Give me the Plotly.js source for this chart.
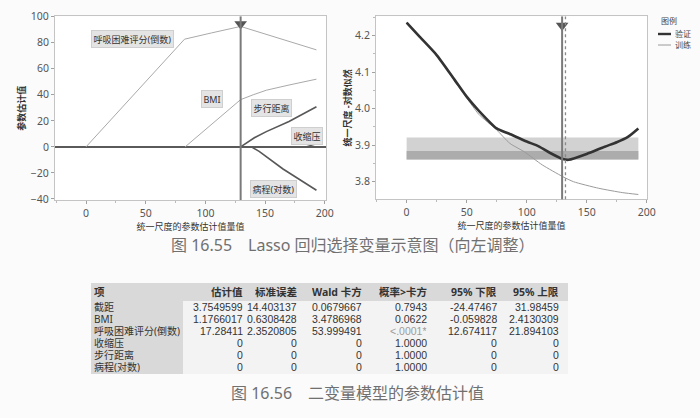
<!DOCTYPE html>
<html><head><meta charset="utf-8">
<script src="https://cdn.plot.ly/plotly-3.0.1.min.js"></script>
<style>html,body{margin:0;padding:0;background:#fbfbfb;} #chart{width:700px;height:418px;}</style>
</head><body><div id="chart"></div>
<script>
// ---- Left chart: Lasso solution paths ----
const pathNames = ['呼吸困难评分(倒数)', 'BMI', '步行距离', '收缩压', '病程(对数)'];
const dyspneaX = [0, 82.5, 105, 129.5, 193];
const dyspneaY = [0, 82.7, 87.5, 92.5, 74.5];
const bmiX = [83, 129.5, 140, 151, 170, 193];
const bmiY = [0, 36.3, 40, 43.5, 47.5, 52];
const walkX = [129.5, 135, 141, 151, 170, 193];
const walkY = [0, 3.5, 7, 11.7, 19.5, 30.8];
const sbpX = [184, 193];
const sbpY = [0, 2.3];
const durX = [138.5, 145, 165, 193];
const durY = [0, -3.5, -17, -33.3];
const labelX = [39.3, 105.4, 155.6, 185, 157.3];
const labelY = [82.9, 36.8, 29.9, 8.4, -32.3];
const selectedX = 129.5;

// ---- Right chart: scaled -LogLikelihood ----
const validX = [0, 10, 25, 40, 50, 60, 75, 85, 100, 110, 120, 130, 135, 150, 165, 175, 184, 193];
const validY = [4.236, 4.200, 4.147, 4.079, 4.033, 3.995, 3.946, 3.932, 3.910, 3.897, 3.878, 3.862, 3.860, 3.876, 3.896, 3.908, 3.922, 3.946];
const trainX = [0, 10, 25, 40, 50, 60, 75, 86, 98, 113, 130, 139, 160, 180, 193];
const trainY = [4.236, 4.200, 4.147, 4.076, 4.030, 3.985, 3.942, 3.905, 3.882, 3.846, 3.814, 3.800, 3.782, 3.770, 3.765];
const bandX = [0, 193];
const bandLight = [3.861, 3.921];
const bandDark = [3.861, 3.884];
const minValidX = 132.3;
const legendTitle = '图例';
const legendNames = ['验证', '训练'];

// ---- Table ----
const tblHeader = ['项', '估计值', '标准误差', 'Wald 卡方', '概率>卡方', '95% 下限', '95% 上限'];
const tblTerms = ['截距', 'BMI', '呼吸困难评分(倒数)', '收缩压', '步行距离', '病程(对数)'];
const tblEstimate = ['3.7549599', '1.1766017', '17.28411', '0', '0', '0'];
const tblStdErr = ['14.403137', '0.6308428', '2.3520805', '0', '0', '0'];
const tblWald = ['0.0679667', '3.4786968', '53.999491', '0', '0', '0'];
const tblProb = ['0.7943', '0.0622', '<.0001*', '1.0000', '1.0000', '1.0000'];
const tblLower = ['-24.47467', '-0.059828', '12.674117', '0', '0', '0'];
const tblUpper = ['31.98459', '2.4130309', '21.894103', '0', '0', '0'];

const captions = ['图 16.55　Lasso 回归选择变量示意图（向左调整）', '图 16.56　二变量模型的参数估计值'];

const F = 'Noto Sans, Noto Sans CJK SC, sans-serif';
const FN = 'Liberation Sans, Arial, sans-serif';
const lightGray = '#a9a9a9', darkGray = '#585858';
const W = 700, H = 418;
const px = v => v / W, py = v => 1 - v / H;

const pathX = [dyspneaX, bmiX, walkX, sbpX, durX];
const pathY = [dyspneaY, bmiY, walkY, sbpY, durY];
const pathColor = [lightGray, lightGray, darkGray, darkGray, darkGray];
const pathWidth = [1, 1, 1.6, 1.4, 1.6];

const traces = [];
pathNames.forEach((n, i) => traces.push({
  type: 'scatter', mode: 'lines', x: pathX[i], y: pathY[i], name: n,
  xaxis: 'x', yaxis: 'y', showlegend: false,
  line: {color: pathColor[i], width: pathWidth[i]}
}));
traces.push({type: 'scatter', mode: 'markers', x: [selectedX], y: [94.3], xaxis: 'x', yaxis: 'y',
  showlegend: false, marker: {symbol: 'triangle-down', size: 11, color: '#555'}});
traces.push({type: 'scatter', mode: 'lines', x: trainX, y: trainY, name: legendNames[1],
  xaxis: 'x2', yaxis: 'y2', showlegend: false, line: {color: '#9a9a9a', width: 1, shape: 'spline', smoothing: 0.6}});
traces.push({type: 'scatter', mode: 'lines', x: validX, y: validY, name: legendNames[0],
  xaxis: 'x2', yaxis: 'y2', showlegend: false, line: {color: '#333', width: 2.6, shape: 'spline', smoothing: 0.6}});
traces.push({type: 'scatter', mode: 'markers', x: [selectedX], y: [4.228], xaxis: 'x2', yaxis: 'y2',
  showlegend: false, marker: {symbol: 'triangle-down', size: 11, color: '#555'}});

const axisBase = {
  showline: true, mirror: true, linecolor: '#c4c4c4', linewidth: 1,
  ticks: 'outside', ticklen: 3, tickcolor: '#a0a0a0', showgrid: false,
  tickfont: {family: F, size: 10.5, color: '#555'}
};

const annotations = pathNames.map((n, i) => ({
  xref: 'x', yref: 'y', x: labelX[i], y: labelY[i], text: n, showarrow: false,
  xanchor: 'center', yanchor: 'middle',
  font: {family: F, size: 9, color: '#333'}, bgcolor: '#e4e4e4', bordercolor: '#cfcfcf',
  borderwidth: 1, borderpad: 1.5
}));

// captions
annotations.push({xref: 'paper', yref: 'paper', x: px(353), y: py(245), text: captions[0], showarrow: false,
  xanchor: 'center', yanchor: 'middle', font: {family: F, size: 16, color: '#707070'}});
annotations.push({xref: 'paper', yref: 'paper', x: px(357), y: py(393), text: captions[1], showarrow: false,
  xanchor: 'center', yanchor: 'middle', font: {family: F, size: 16, color: '#707070'}});

// legend (drawn manually)
const legFont = {family: F, size: 8, color: '#444'};
annotations.push({xref: 'paper', yref: 'paper', x: px(659), y: py(21), text: legendTitle, showarrow: false,
  xanchor: 'left', yanchor: 'middle', font: legFont});
legendNames.forEach((n, i) => annotations.push({xref: 'paper', yref: 'paper', x: px(673), y: py(34 + 11 * i),
  text: n, showarrow: false, xanchor: 'left', yanchor: 'middle', font: legFont}));

// table geometry
const tblLeft = 91, tblRight = 568, tblTop = 283, headBottom = 301, rowH = 11.9, firstColRight = 183;
const colRightText = [244, 298, 363, 428, 498, 560];
const bodyCols = [tblEstimate, tblStdErr, tblWald, tblProb, tblLower, tblUpper];
const tblBottom = headBottom + rowH * tblTerms.length + 1.5;
const headY = (tblTop + headBottom) / 2;
const cellBox = {showarrow: false, yanchor: 'middle', borderpad: 0, height: 11.5, xref: 'paper', yref: 'paper'};
annotations.push(Object.assign({}, cellBox, {x: px(tblLeft + 2), y: py(headY), text: '<b>' + tblHeader[0] + '</b>',
  xanchor: 'left', height: 14, font: {family: F, size: 10.5, color: '#333'}}));
colRightText.forEach((cx, j) => annotations.push(Object.assign({}, cellBox, {x: px(cx), y: py(headY),
  text: '<b>' + tblHeader[j + 1] + '</b>', xanchor: 'right', height: 14,
  font: {family: F, size: 10.5, color: '#333'}})));
tblTerms.forEach((t, i) => {
  const cy = headBottom + rowH * (i + 0.5) + 0.5;
  annotations.push(Object.assign({}, cellBox, {x: px(tblLeft + 2), y: py(cy), text: t,
    xanchor: 'left', font: {family: F, size: 10, color: '#333'}}));
  bodyCols.forEach((col, j) => annotations.push(Object.assign({}, cellBox, {x: px(colRightText[j]), y: py(cy),
    text: col[i], xanchor: 'right',
    font: {family: FN, size: 10.5, color: col[i].startsWith('<') ? '#9c9c9c' : '#333'}})));
});

const shapes = [
  {type: 'rect', xref: 'x2', yref: 'y2', x0: bandX[0], x1: bandX[1], y0: bandLight[0], y1: bandLight[1],
    fillcolor: '#d2d2d2', line: {width: 0}, layer: 'below'},
  {type: 'rect', xref: 'x2', yref: 'y2', x0: bandX[0], x1: bandX[1], y0: bandDark[0], y1: bandDark[1],
    fillcolor: '#acacac', line: {width: 0}, layer: 'below'},
  {type: 'line', xref: 'x', yref: 'y domain', x0: selectedX, x1: selectedX, y0: 0, y1: 1,
    line: {color: '#7a7a7a', width: 2}},
  {type: 'line', xref: 'x2', yref: 'y2 domain', x0: selectedX, x1: selectedX, y0: 0, y1: 1,
    line: {color: '#7a7a7a', width: 2}},
  {type: 'line', xref: 'x2', yref: 'y2 domain', x0: minValidX, x1: minValidX, y0: 0, y1: 1,
    line: {color: '#8a8a8a', width: 1.3, dash: 'dot'}},
  // legend samples
  {type: 'line', xref: 'paper', yref: 'paper', x0: px(658), x1: px(671), y0: py(34), y1: py(34),
    line: {color: '#333', width: 2.4}},
  {type: 'line', xref: 'paper', yref: 'paper', x0: px(658), x1: px(671), y0: py(45), y1: py(45),
    line: {color: '#9a9a9a', width: 1}},
  // table backgrounds
  {type: 'rect', xref: 'paper', yref: 'paper', x0: px(tblLeft), x1: px(tblRight), y0: py(headBottom), y1: py(tblTop),
    fillcolor: '#d9d9d9', line: {width: 0}, layer: 'below'},
  {type: 'rect', xref: 'paper', yref: 'paper', x0: px(tblLeft), x1: px(firstColRight), y0: py(tblBottom), y1: py(headBottom),
    fillcolor: '#d9d9d9', line: {width: 0}, layer: 'below'},
  {type: 'rect', xref: 'paper', yref: 'paper', x0: px(firstColRight), x1: px(tblRight), y0: py(tblBottom), y1: py(headBottom),
    fillcolor: '#f3f3f3', line: {width: 0}, layer: 'below'}
];

const titleFont = {family: F, size: 9, color: '#333'};
const layout = {
  width: W, height: H,
  margin: {l: 0, r: 0, t: 0, b: 0},
  paper_bgcolor: '#fbfbfb', plot_bgcolor: '#ffffff',
  showlegend: false,
  font: {family: F, color: '#444'},
  xaxis: Object.assign({}, axisBase, {
    domain: [px(55), px(326)], range: [-26, 201], tickvals: [0, 50, 100, 150, 200],
    zeroline: false, anchor: 'y',
    minor: {ticks: 'outside', ticklen: 2, tickcolor: '#bbb', dtick: 25},
    title: {text: '统一尺度的参数估计值量值', font: titleFont, standoff: 0}
  }),
  yaxis: Object.assign({}, axisBase, {
    domain: [py(200), py(16.4)], range: [-40.8, 100.2], tickvals: [-40, -20, 0, 20, 40, 60, 80, 100],
    zeroline: true, zerolinecolor: '#5a5a5a', zerolinewidth: 2, anchor: 'x',
    title: {text: '<b>参数估计值</b>', font: titleFont, standoff: 3}
  }),
  xaxis2: Object.assign({}, axisBase, {
    domain: [px(376), px(647)], range: [-25.5, 200.2], tickvals: [0, 50, 100, 150, 200],
    zeroline: false, anchor: 'y2',
    minor: {ticks: 'outside', ticklen: 2, tickcolor: '#bbb', dtick: 25},
    title: {text: '统一尺度的参数估计值量值', font: titleFont, standoff: 0}
  }),
  yaxis2: Object.assign({}, axisBase, {
    domain: [py(199.3), py(16.4)], range: [3.7518, 4.2529], tickvals: [3.8, 3.9, 4.0, 4.1, 4.2],
    tickformat: '.1f', zeroline: false, anchor: 'x2',
    minor: {ticks: 'outside', ticklen: 2, tickcolor: '#bbb', dtick: 0.05},
    title: {text: '<b>统一尺度 -对数似然</b>', font: titleFont, standoff: 1}
  }),
  annotations: annotations,
  shapes: shapes
};

Plotly.newPlot('chart', traces, layout, {displayModeBar: false, staticPlot: true});
</script></body></html>
